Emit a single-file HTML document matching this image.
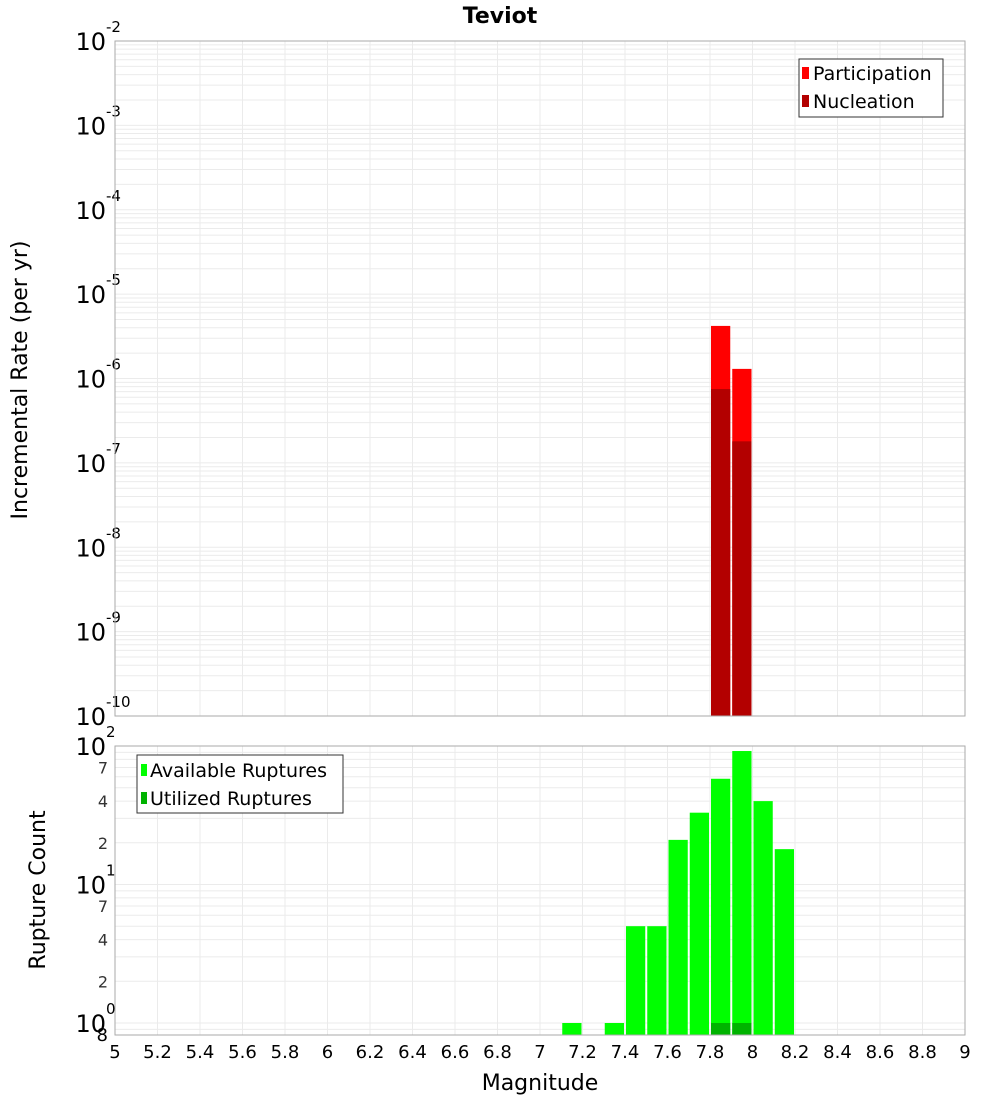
<!DOCTYPE html>
<html><head><meta charset="utf-8"><style>
body{margin:0;background:#fff;font-family:"DejaVu Sans","Liberation Sans",sans-serif}
svg text{font-family:"DejaVu Sans","Liberation Sans",sans-serif}
</style></head><body>
<svg id="c" width="1000" height="1100" xmlns="http://www.w3.org/2000/svg" style="position:absolute;left:0;top:0">
<text x="500" y="23" text-anchor="middle" font-size="22" font-weight="bold">Teviot</text>
<g id="topg"></g><g id="botg"></g>
</svg>
<svg style="position:absolute;left:0;top:0" width="1000" height="1100">
<text x="540" y="1090" text-anchor="middle" font-size="22">Magnitude</text>
<text transform="translate(27,380) rotate(-90)" text-anchor="middle" font-size="22">Incremental Rate (per yr)</text>
<text transform="translate(45,890) rotate(-90)" text-anchor="middle" font-size="22">Rupture Count</text>
<g>
<rect x="799" y="59" width="144" height="58" fill="#fff" stroke="#333"/>
<rect x="802" y="67" width="7" height="12" fill="#ff0000"/>
<text x="813" y="80" font-size="19">Participation</text>
<rect x="802" y="95" width="7" height="12" fill="#b30000"/>
<text x="813" y="108" font-size="19">Nucleation</text>
</g>
<g>
<rect x="137" y="755" width="206" height="58" fill="#fff" stroke="#333"/>
<rect x="141" y="764" width="6" height="12" fill="#00ff00"/>
<text x="150" y="777" font-size="19">Available Ruptures</text>
<rect x="141" y="792" width="6" height="12" fill="#00b300"/>
<text x="150" y="805" font-size="19">Utilized Ruptures</text>
</g>
</svg>
<script>
const binStarts=[7.8,7.9];
const participation=[4.2e-6,1.3e-6];
const nucleation=[7.5e-7,1.8e-7];
const countBins=[7.1,7.3,7.4,7.5,7.6,7.7,7.8,7.9,8.0,8.1];
const available=[1,1,5,5,21,33,58,92,40,18];
const utilBins=[7.8,7.9];
const utilized=[1,1];
const xTicks=[5,5.2,5.4,5.6,5.8,6,6.2,6.4,6.6,6.8,7,7.2,7.4,7.6,7.8,8,8.2,8.4,8.6,8.8,9];
const topExps=[-10,-9,-8,-7,-6,-5,-4,-3,-2];
const botMinor=[2,4,7,20,40,70];

const NS="http://www.w3.org/2000/svg";
const svgEl=document.getElementById('c');
function mk(t,a,p){const e=document.createElementNS(NS,t);for(const k in a)e.setAttribute(k,a[k]);(p||svgEl).appendChild(e);return e;}
const X0=115,X1=965;
const x=v=>X0+(v-5)/4*(X1-X0);
const T0=41,T1=716;
const yT=v=>T1-(Math.log10(v)+10)/8*(T1-T0);
const B0=746,B1=1035,BD=138.5,B10=1023;
const yB=v=>B10-Math.log10(v)*BD;
const gTop=document.getElementById('topg'),gBot=document.getElementById('botg');

xTicks.forEach(t=>{
 let l=mk('line',{x1:x(t),x2:x(t),y1:T0,y2:T1,stroke:'#ebebeb'},gTop);
 
 
 let l2=mk('line',{x1:x(t),x2:x(t),y1:B0,y2:B1,stroke:'#ebebeb'},gBot);
 
 
});
for(let e=-10;e<-2;e++)for(let m=1;m<10;m++){
 const yy=yT(m*Math.pow(10,e));
 let l=mk('line',{x1:X0,x2:X1,y1:yy,y2:yy,stroke:'#ebebeb'},gTop);
 
 
}
for(let e=-1;e<2;e++)for(let m=1;m<10;m++){
 const v=m*Math.pow(10,e);const yy=yB(v);if(yy>B1||yy<B0)continue;
 let l=mk('line',{x1:X0,x2:X1,y1:yy,y2:yy,stroke:'#ebebeb'},gBot);
 
 
}
binStarts.forEach((b,i)=>{
 let r=mk('rect',{x:x(b)+1,y:yT(participation[i]),width:x(b+0.1)-x(b)-2,height:T1-yT(participation[i]),fill:'#ff0000'},gTop);
 
 
 let r2=mk('rect',{x:x(b)+1,y:yT(nucleation[i]),width:x(b+0.1)-x(b)-2,height:T1-yT(nucleation[i]),fill:'#b30000'},gTop);
 
 
});
countBins.forEach((b,i)=>{
 let r=mk('rect',{x:x(b)+1,y:yB(available[i]),width:x(b+0.1)-x(b)-2,height:B1-yB(available[i]),fill:'#00ff00'},gBot);
 
 
});
utilBins.forEach((b,i)=>{
 let r=mk('rect',{x:x(b)+1,y:yB(utilized[i]),width:x(b+0.1)-x(b)-2,height:B1-yB(utilized[i]),fill:'#00b300'},gBot);
 
 
});
[[T0,T1],[B0,B1]].forEach(([a,b])=>{let f=mk('rect',{x:X0,y:a,width:X1-X0,height:b-a,fill:'none',stroke:'#aaaaaa'});
 
 });
topExps.forEach(e=>{
 const yy=yT(Math.pow(10,e));
 let t=mk('text',{x:106,y:yy+9,'text-anchor':'end','font-size':24},gTop);
 
 
 t.textContent='10';
 let s=mk('text',{x:106,y:yy-9,'font-size':15},gTop);s.textContent=String(e);
 
 
});
[0,1,2].forEach(e=>{
 const yy=yB(Math.pow(10,e));
 let t=mk('text',{x:106,y:yy+9,'text-anchor':'end','font-size':24},gBot);t.textContent='10';
 
 
 let s=mk('text',{x:106,y:yy-9,'font-size':15},gBot);s.textContent=String(e);
 
 
});
botMinor.forEach(v=>{
 const yy=yB(v);
 let t=mk('text',{x:108,y:yy+6,'text-anchor':'end','font-size':16,fill:'#333'},gBot);
 t.textContent=String(v).charAt(0);
 
 
});
{let t=mk('text',{x:108,y:1041,'text-anchor':'end','font-size':18},gBot);t.textContent='8';
 
 }
xTicks.forEach(t=>{
 let e=mk('text',{x:x(t),y:1058,'text-anchor':'middle','font-size':18},gBot);
 e.textContent=String(t);
 
 
});
</script>
</body></html>
